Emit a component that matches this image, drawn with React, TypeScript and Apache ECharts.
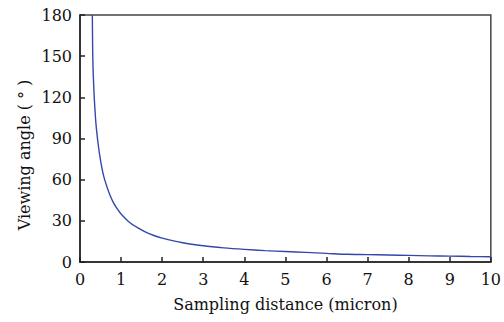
import React, { useEffect, useRef } from "react";
import * as echarts from "echarts";

const distances = [0.3, 0.31, 0.32, 0.33, 0.35, 0.375, 0.4, 0.45, 0.5, 0.55, 0.6, 0.7, 0.8, 0.9, 1, 1.2, 1.4, 1.6, 1.8, 2, 2.5, 3, 3.5, 4, 4.5, 5, 5.5, 6, 6.5, 7, 7.5, 8, 8.5, 9, 9.5, 10];
const angles = [180, 151, 139, 131, 118, 106, 97, 84, 74, 66, 60, 51, 44, 39, 35, 29, 25, 21.8, 19.3, 17.4, 14, 11.8, 10.3, 9.2, 8.3, 7.6, 7, 6.3, 5.6, 5.4, 5.1, 4.8, 4.5, 4.3, 4.0, 3.8];
const xTicks = [0, 1, 2, 3, 4, 5, 6, 7, 8, 9, 10];
const yTicks = [0, 30, 60, 90, 120, 150, 180];
const xTitle = "Sampling distance (micron)";
const yTitle = "Viewing angle ( ° )";

export default function App() {
  const ref = useRef<HTMLDivElement>(null);
  useEffect(() => {
    if (!ref.current) return;
    const chart = echarts.init(ref.current, undefined, { renderer: "svg" });
    const font = "DejaVu Serif";
    chart.setOption({
      animation: false,
      backgroundColor: "#ffffff",
      grid: {
        left: 80,
        right: 12,
        top: 15,
        bottom: 60,
        show: true,
        borderColor: "#444",
        borderWidth: 1.5,
      },
      graphic: [
        {
          type: "text",
          x: 24,
          y: 155,
          rotation: Math.PI / 2,
          style: {
            text: yTitle,
            fontFamily: font,
            fontSize: 16,
            fill: "#111",
            align: "center",
            verticalAlign: "middle",
          },
        },
      ],
      xAxis: {
        type: "value",
        min: xTicks[0],
        max: xTicks[xTicks.length - 1],
        interval: 1,
        name: xTitle,
        nameLocation: "middle",
        nameGap: 34,
        nameTextStyle: { fontFamily: font, fontSize: 16, color: "#111" },
        axisLine: { show: true, lineStyle: { color: "#222", width: 1.5 } },
        axisTick: { show: true, inside: true, length: 5, lineStyle: { color: "#222", width: 1.5 } },
        axisLabel: { fontFamily: font, fontSize: 16, color: "#111", margin: 9 },
        splitLine: { show: false },
      },
      yAxis: {
        type: "value",
        min: yTicks[0],
        max: yTicks[yTicks.length - 1],
        interval: 30,
        axisLine: { show: true, lineStyle: { color: "#222", width: 1.5 } },
        axisTick: { show: true, inside: true, length: 5, lineStyle: { color: "#222", width: 1.5 } },
        axisLabel: { fontFamily: font, fontSize: 16, color: "#111", margin: 8 },
        splitLine: { show: false },
      },
      series: [
        {
          type: "line",
          data: distances.map((d, i) => [d, angles[i]]),
          smooth: 0.3,
          showSymbol: false,
          clip: true,
          lineStyle: { color: "#3347ad", width: 1.4 },
        },
      ],
    });
    return () => chart.dispose();
  }, []);
  return <div ref={ref} style={{ width: 504, height: 322, position: "absolute", left: 0, top: 0 }} />;
}
